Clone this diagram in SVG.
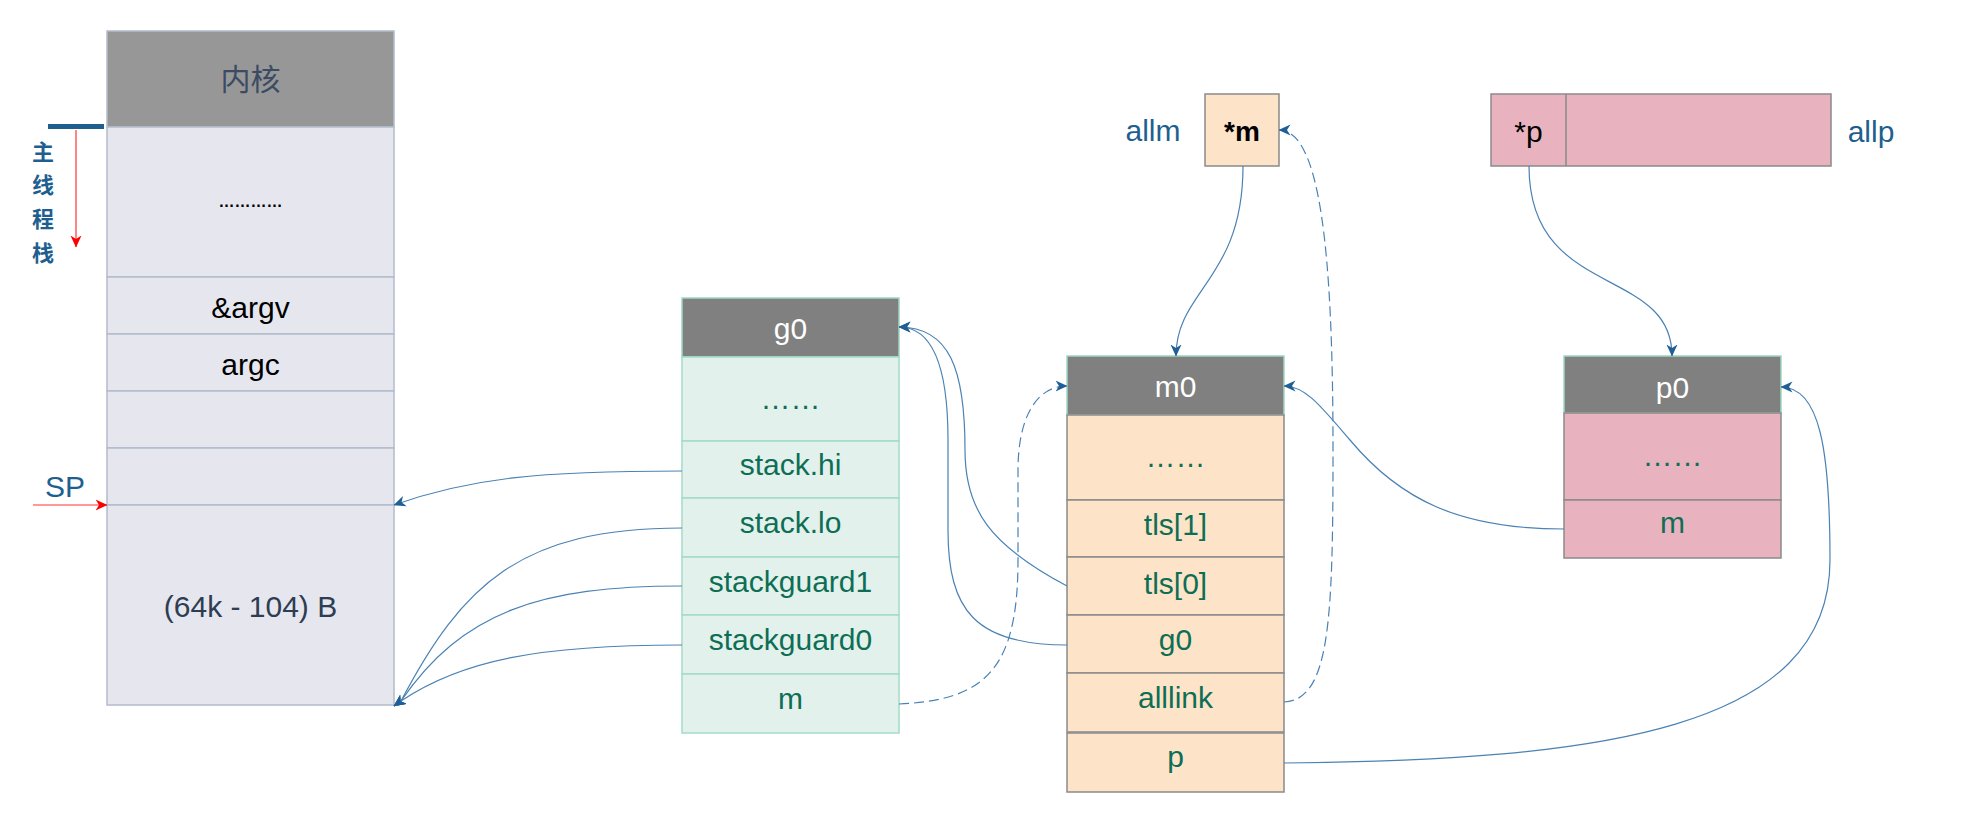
<svg xmlns="http://www.w3.org/2000/svg" width="1976" height="826" viewBox="0 0 1976 826">
<defs>
<marker id="arrow" markerUnits="userSpaceOnUse" viewBox="0 0 12 12" markerWidth="12" markerHeight="12" refX="11.5" refY="6" orient="auto">
<path d="M0,0.5 L12,6 L0,11.5 L3.5,6 Z" fill="#1f5f95"/>
</marker>
<marker id="arrowRed" markerUnits="userSpaceOnUse" viewBox="0 0 12 12" markerWidth="12" markerHeight="12" refX="11.5" refY="6" orient="auto">
<path d="M0,0.5 L12,6 L0,11.5 L3.5,6 Z" fill="#ff0000"/>
</marker>
</defs>
<style>
text { font-family: "Liberation Sans", Arial, sans-serif; text-anchor: middle; }
.conn { fill: none; stroke: #4a82b4; stroke-width: 1.2; marker-end: url(#arrow); }
.dash { stroke-dasharray: 10 5; }
.red { fill: none; stroke: #ff3333; stroke-width: 1.2; marker-end: url(#arrowRed); }
.stk { fill: #e6e7ee; stroke: #b2bccb; stroke-width: 1.5; }
.stkh { fill: #979797; stroke: #b2bccb; stroke-width: 1.5; }
.hdr { fill: #808080; stroke: #9fd6c2; stroke-width: 1.5; }
.grow { fill: #e3f1ec; stroke: #a3dcc6; stroke-width: 1.5; }
.mrow { fill: #fde4c8; stroke: #8a8a8a; stroke-width: 1.5; }
.prow { fill: #e8b3bf; stroke: #8a8a8a; stroke-width: 1.5; }
.tg { fill: #0e6e55; font-size: 30px; }
.tw { fill: #ffffff; font-size: 30px; }
.tk { fill: #000000; font-size: 30px; }
.tb { fill: #1f5f8f; font-size: 30px; }
.cjk { font-family: "Noto Sans CJK SC", sans-serif; }
</style>

<g id="main-stack">
<rect class="stkh" x="107" y="31" width="287" height="96"/>
<rect class="stk" x="107" y="127" width="287" height="150"/>
<rect class="stk" x="107" y="277" width="287" height="57"/>
<rect class="stk" x="107" y="334" width="287" height="57"/>
<rect class="stk" x="107" y="391" width="287" height="57"/>
<rect class="stk" x="107" y="448" width="287" height="57"/>
<rect class="stk" x="107" y="505" width="287" height="200"/>
<text class="cjk" x="250.5" y="90" style="font-size:30px;fill:#3b4b63">内核</text>
<text x="250.5" y="207" style="font-size:16px;font-weight:bold;fill:#000">…………</text>
<text class="tk" x="250.5" y="318">&amp;argv</text>
<text class="tk" x="250.5" y="375">argc</text>
<text x="250.5" y="617" style="font-size:30px;fill:#2e3d52">(64k - 104) B</text>
</g>

<g id="stack-annotations">
<rect x="48" y="124" width="56" height="5" fill="#1f5f8f"/>
<path class="red" d="M76,130 L76,247"/>
<text class="cjk" x="43" y="160" style="font-size:22px;font-weight:bold;fill:#1f5f8f">主</text>
<text class="cjk" x="43" y="193" style="font-size:22px;font-weight:bold;fill:#1f5f8f">线</text>
<text class="cjk" x="43" y="227" style="font-size:22px;font-weight:bold;fill:#1f5f8f">程</text>
<text class="cjk" x="43" y="261" style="font-size:22px;font-weight:bold;fill:#1f5f8f">栈</text>
<text class="tb" x="65" y="497">SP</text>
<path class="red" d="M33,505 L107,505"/>
</g>

<g id="g0">
<rect class="hdr" x="682" y="298" width="217" height="59"/>
<rect class="grow" x="682" y="357" width="217" height="84"/>
<rect class="grow" x="682" y="441" width="217" height="57"/>
<rect class="grow" x="682" y="498" width="217" height="59"/>
<rect class="grow" x="682" y="557" width="217" height="58"/>
<rect class="grow" x="682" y="615" width="217" height="59"/>
<rect class="grow" x="682" y="674" width="217" height="59"/>
<text class="tw" x="790.5" y="339">g0</text>
<text class="tg" x="790.5" y="409">……</text>
<text class="tg" x="790.5" y="475">stack.hi</text>
<text class="tg" x="790.5" y="533">stack.lo</text>
<text class="tg" x="790.5" y="592">stackguard1</text>
<text class="tg" x="790.5" y="650">stackguard0</text>
<text class="tg" x="790.5" y="709">m</text>
</g>

<g id="m0">
<rect class="hdr" x="1067" y="356" width="217" height="59"/>
<rect class="mrow" x="1067" y="415" width="217" height="85"/>
<rect class="mrow" x="1067" y="500" width="217" height="57"/>
<rect class="mrow" x="1067" y="557" width="217" height="58"/>
<rect class="mrow" x="1067" y="615" width="217" height="58"/>
<rect class="mrow" x="1067" y="673" width="217" height="59"/>
<rect class="mrow" x="1067" y="733" width="217" height="59"/>
<text class="tw" x="1175.5" y="397">m0</text>
<text class="tg" x="1175.5" y="467">……</text>
<text class="tg" x="1175.5" y="535">tls[1]</text>
<text class="tg" x="1175.5" y="594">tls[0]</text>
<text class="tg" x="1175.5" y="650">g0</text>
<text class="tg" x="1175.5" y="708">alllink</text>
<text class="tg" x="1175.5" y="767">p</text>
</g>

<g id="allm">
<rect class="mrow" x="1205" y="94" width="74" height="72"/>
<text class="tk" x="1242" y="141" style="font-size:28px;font-weight:bold">*m</text>
<text class="tb" x="1153" y="141">allm</text>
</g>

<g id="allp">
<rect class="prow" x="1491" y="94" width="340" height="72"/>
<line x1="1566" y1="94" x2="1566" y2="166" stroke="#8a8a8a" stroke-width="1.5"/>
<text class="tk" x="1528.5" y="142">*p</text>
<text class="tb" x="1871" y="142">allp</text>
</g>

<g id="p0">
<rect class="hdr" x="1564" y="356" width="217" height="57"/>
<rect class="prow" x="1564" y="413" width="217" height="87"/>
<rect class="prow" x="1564" y="500" width="217" height="58"/>
<text class="tw" x="1672.5" y="398">p0</text>
<text class="tg" x="1672.5" y="466">……</text>
<text class="tg" x="1672.5" y="533">m</text>
</g>

<g id="connectors">
<path class="conn" d="M682,471 C540,471 470,478 394,505"/>
<path class="conn" d="M682,528 C520,528 462,585 401,701 L394,706"/>
<path class="conn" d="M682,586 C540,586 462,612 401,701 L394,706"/>
<path class="conn" d="M682,645 C540,645 462,660 401,701 L394,706"/>
<path class="conn" d="M1067,586 C990,545 965,510 965,450 C965,370 950,327 899,327"/>
<path class="conn" d="M1067,645 C975,645 948,610 948,530 L948,440 C948,360 930,327 899,327"/>
<path class="conn dash" d="M899,704 C985,700 1018,670 1018,560 L1018,470 C1018,420 1035,386 1067,386"/>
<path class="conn" d="M1243,166 C1243,280 1176,290 1176,356"/>
<path class="conn dash" d="M1284,702 C1330,700 1333,620 1333,450 C1333,250 1320,130 1279,130"/>
<path class="conn" d="M1529,166 C1529,300 1672,265 1672,356"/>
<path class="conn" d="M1564,529 C1460,529 1400,500 1350,440 C1320,405 1305,386 1284,386"/>
<path class="conn" d="M1284,763 C1600,760 1830,730 1830,560 C1830,450 1820,387 1781,387"/>
</g>
</svg>
